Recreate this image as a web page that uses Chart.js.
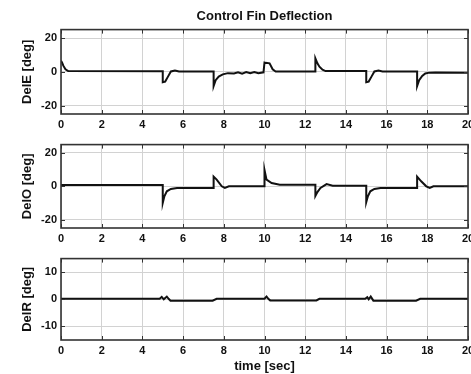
<!DOCTYPE html>
<html>
<head>
<meta charset="utf-8">
<script src="https://cdn.jsdelivr.net/npm/chart.js@4"></script>
<style>
  body { margin: 0; background: #fff; }
  canvas { position: absolute; left: 0; }
</style>
</head>
<body>
<canvas id="c1" width="471" height="134" style="top:0px"></canvas>
<canvas id="c2" width="471" height="114" style="top:134px"></canvas>
<canvas id="c3" width="471" height="126" style="top:248px"></canvas>
<script>
const xTicks = [0, 2, 4, 6, 8, 10, 12, 14, 16, 18, 20];
const yTicksBig = [-20, 0, 20];
const yTicksSmall = [-10, 0, 10];

const timeE = [0, 0.05, 0.12, 0.22, 0.35, 5.0, 5.0, 5.12, 5.25, 5.4, 5.6, 5.8, 7.5, 7.5, 7.6, 7.75, 7.95, 8.2, 8.5, 8.7, 8.9, 9.1, 9.3, 9.5, 9.7, 9.95, 10.0, 10.05, 10.25, 10.4, 10.55, 12.5, 12.5, 12.6, 12.7, 12.85, 13.0, 15.0, 15.0, 15.12, 15.25, 15.4, 15.6, 15.8, 17.5, 17.5, 17.6, 17.75, 17.9, 18.1, 18.4, 20];
const delE = [6.5, 5.5, 3.5, 1.5, 0.4, 0.3, -6.2, -5.8, -3, 0.2, 0.8, 0.2, 0.2, -8.5, -5, -2.8, -1.5, -0.8, -1, -0.3, -1.1, -0.2, -0.9, -0.2, -0.8, -0.3, 5.5, 5.3, 5, 1.5, 0.2, 0.2, 8, 5, 3, 1.2, 0.4, 0.4, -6.2, -5.8, -3, 0.2, 0.8, 0.2, 0.2, -8.5, -5, -2.5, -1, -0.5, -0.4, -0.5];

const timeO = [0, 5.0, 5.0, 5.08, 5.2, 5.4, 5.7, 7.5, 7.5, 7.65, 7.9, 8.05, 8.25, 10.0, 10.0, 10.1, 10.35, 10.75, 12.5, 12.5, 12.6, 12.75, 13.05, 13.35, 15.0, 15.0, 15.08, 15.2, 15.4, 15.7, 17.5, 17.5, 17.7, 17.95, 18.12, 18.3, 20];
const delO = [0.8, 0.8, -10, -6, -3, -1.6, -1, -1, 5.8, 4, 0, -1, 0, 0, 9.8, 4, 2, 1, 1, -5.8, -3.5, -1, 1.3, 0.4, 0.4, -9.5, -6, -3, -1.6, -1, -1, 5.8, 3, 0, -1, 0, 0];

const timeR = [0, 4.85, 4.95, 5.05, 5.2, 5.3, 5.38, 7.45, 7.65, 10.0, 10.1, 10.2, 10.28, 12.55, 12.7, 14.95, 15.05, 15.12, 15.22, 15.35, 17.45, 17.65, 20];
const delR = [0.2, 0.2, 0.9, 0.0, 1.0, 0.1, -0.5, -0.5, 0.2, 0.2, 1.0, 0.1, -0.4, -0.4, 0.2, 0.2, 0.8, 0.0, 1.0, -0.5, -0.5, 0.2, 0.2];

const FONT = 'Arial, "Liberation Sans", sans-serif';

const boxPlugin = {
  id: 'box',
  afterDraw(chart) {
    const { ctx, chartArea: a, scales } = chart;
    ctx.save();
    ctx.strokeStyle = '#333';
    ctx.lineWidth = 1;
    scales.x.ticks.forEach(t => {
      const px = Math.round(scales.x.getPixelForValue(t.value)) + 0.5;
      ctx.beginPath();
      ctx.moveTo(px, a.top); ctx.lineTo(px, a.top + 4);
      ctx.moveTo(px, a.bottom); ctx.lineTo(px, a.bottom - 4);
      ctx.stroke();
    });
    scales.y.ticks.forEach(t => {
      const py = Math.round(scales.y.getPixelForValue(t.value)) + 0.5;
      ctx.beginPath();
      ctx.moveTo(a.left, py); ctx.lineTo(a.left + 4, py);
      ctx.moveTo(a.right, py); ctx.lineTo(a.right - 4, py);
      ctx.stroke();
    });
    ctx.lineWidth = 1.6;
    ctx.strokeRect(a.left, a.top, a.width, a.height);
    ctx.restore();
  }
};

function makeChart(id, times, values, yLabel, yTicks, yMax, opts) {
  const ctx = document.getElementById(id).getContext('2d');
  const points = times.map((t, i) => ({ x: t, y: values[i] }));
  return new Chart(ctx, {
    type: 'line',
    data: {
      datasets: [{
        data: points,
        borderColor: '#111',
        borderWidth: 2,
        pointRadius: 0,
        tension: 0,
        fill: false,
      }],
    },
    options: {
      responsive: false,
      animation: false,
      devicePixelRatio: 1,
      layout: { padding: { top: opts.padTop, right: 3, left: 0, bottom: 0 } },
      plugins: {
        legend: { display: false },
        tooltip: { enabled: false },
        title: {
          display: !!opts.title,
          text: opts.title || '',
          fullSize: false,
          color: '#111',
          font: { family: FONT, size: 13, weight: 'bold' },
          padding: { top: 0, bottom: 5 },
        },
      },
      scales: {
        x: {
          type: 'linear',
          min: 0,
          max: 20,
          afterBuildTicks: s => { s.ticks = xTicks.map(v => ({ value: v })); },
          afterFit: s => {
            s.height = opts.xHeight;
            s.paddingRight = 0;
            s.paddingLeft = 0;
          },
          grid: { color: '#d2d2d2', lineWidth: 1, drawTicks: false },
          border: { display: false },
          ticks: {
            color: '#111',
            padding: 4,
            maxRotation: 0,
            autoSkip: false,
            font: { family: FONT, size: 11, weight: 'bold' },
          },
          title: {
            display: !!opts.xTitle,
            text: opts.xTitle || '',
            color: '#111',
            padding: { top: 0, bottom: 0 },
            font: { family: FONT, size: 13, weight: 'bold' },
          },
        },
        y: {
          min: -yMax,
          max: yMax,
          afterBuildTicks: s => { s.ticks = yTicks.map(v => ({ value: v })); },
          afterFit: s => { s.width = 61; },
          grid: { color: '#d2d2d2', lineWidth: 1, drawTicks: false },
          border: { display: false },
          ticks: {
            color: '#111',
            padding: 4,
            font: { family: FONT, size: 11, weight: 'bold' },
          },
          title: {
            display: true,
            text: yLabel,
            color: '#111',
            padding: { top: 20, bottom: 0 },
            font: { family: FONT, size: 13, weight: 'bold' },
          },
        },
      },
    },
    plugins: [boxPlugin],
  });
}

makeChart('c1', timeE, delE, 'DelE [deg]', yTicksBig, 25,
  { padTop: 9, xHeight: 20, title: 'Control Fin Deflection' });
makeChart('c2', timeO, delO, 'DelO [deg]', yTicksBig, 25,
  { padTop: 8, xHeight: 20 });
makeChart('c3', timeR, delR, 'DelR [deg]', yTicksSmall, 15,
  { padTop: 7, xHeight: 34, xTitle: 'time [sec]' });
</script>
</body>
</html>
